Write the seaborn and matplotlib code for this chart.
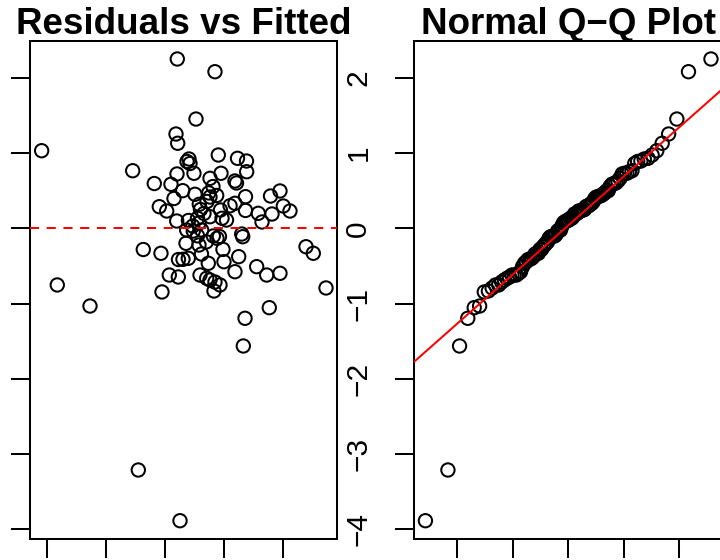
import numpy as np
import pandas as pd
import seaborn as sns
import matplotlib
matplotlib.use("Agg")
import matplotlib.pyplot as plt
from statistics import NormalDist

# ---- data ----
fitted = [0.915, 3.208, 3.845, 3.524, 3.186, 3.215, 2.454, 3.372, 3.423, 3.406,
          3.901, 4.226, 4.378, 4.381, 3.947, 3.490, 3.203, 2.819, 3.101, 3.761,
          3.811, 4.183, 4.209, 3.152, 3.507, 3.874, 3.761, 3.710, 4.361, 4.944,
          4.784, 2.904, 3.029, 3.580, 3.600, 3.938, 4.183, 4.361, 4.577, 4.809,
          5.000, 5.113, 3.198, 3.397, 3.549, 3.575, 3.659, 3.964, 4.040, 4.640,
          3.761, 3.367, 3.478, 3.620, 3.817, 3.879, 3.921, 4.297, 4.314, 3.355,
          3.575, 2.633, 2.932, 3.228, 3.304, 3.394, 3.617, 3.732, 3.997, 4.246,
          5.384, 5.507, 4.550, 4.719, 4.944, 4.183, 3.073, 3.225, 3.592, 3.705,
          3.761, 3.845, 3.930, 3.828, 2.949, 1.179, 1.732, 5.722, 4.763, 4.353,
          4.324, 2.549, 3.254, 3.470, 3.700, 3.550, 3.740, 4.100, 3.300, 3.980]
residuals = [1.031, 2.250, 2.081, 1.452, 1.253, 1.130, 0.765, 0.888, 0.861, 0.921,
             0.974, 0.930, 0.894, 0.752, 0.731, 0.731, 0.722, 0.595, 0.585, 0.664,
             0.555, 0.629, 0.602, 0.396, 0.452, 0.436, 0.416, 0.356, 0.420, 0.496,
             0.429, 0.287, 0.230, 0.319, 0.250, 0.243, 0.332, 0.237, 0.199, 0.190,
             0.296, 0.230, 0.097, 0.104, 0.133, 0.070, 0.197, 0.133, 0.110, 0.084,
             0.154, -0.023, -0.036, -0.023, -0.102, -0.133, -0.109, -0.076, -0.112, -0.199,
             -0.222, -0.282, -0.332, -0.415, -0.412, -0.399, -0.342, -0.465, -0.444, -0.377,
             -0.245, -0.332, -0.510, -0.621, -0.598, -0.577, -0.621, -0.647, -0.621, -0.664,
             -0.687, -0.714, -0.753, -0.833, -0.846, -0.753, -1.033, -0.793, -1.055, -1.196,
             -1.564, -3.212, -3.886, 0.030, -0.180, -0.100, 0.470, 0.300, 0.500, -0.280]

titles = ["Residuals vs Fitted", "Normal Q\u2212Q Plot"]
y_ticks = [-4, -3, -2, -1, 0, 1, 2]
fit_ticks = [1, 2, 3, 4, 5]
qq_ticks = [-2, -1, 0, 1, 2]

# ---- derived (Q-Q) ----
n = len(residuals)
res_sorted = np.sort(np.array(residuals))
nd = NormalDist()
theo = np.array([nd.inv_cdf((i + 1 - 0.5) / n) for i in range(n)])
q1, q3 = np.percentile(res_sorted, [25, 75])
z1, z3 = nd.inv_cdf(0.25), nd.inv_cdf(0.75)
slope = (q3 - q1) / (z3 - z1)
intercept = q1 - slope * z1

df_fit = pd.DataFrame({"fitted": fitted, "residual": residuals})
df_qq = pd.DataFrame({"theoretical": theo, "sample": res_sorted})

sns.set_style("white")
plt.rcParams["font.family"] = ["Liberation Sans", "DejaVu Sans"]

W, H = 720, 560
fig = plt.figure(figsize=(7.2, 5.6), dpi=100)

def frac(x0, x1, ytop, ybot):
    return [x0 / W, (H - ybot) / H, (x1 - x0) / W, (ybot - ytop) / H]

ax1 = fig.add_axes(frac(30.3, 337.3, 40.7, 538.7))
ax2 = fig.add_axes(frac(414.0, 722.4, 40.7, 538.7))

mk = dict(s=92, facecolor="none", edgecolor="black", linewidth=1.45, marker="o")

sns.scatterplot(data=df_fit, x="fitted", y="residual", ax=ax1, legend=False, **mk)
ax1.axhline(0, color="red", linewidth=1.45, linestyle=(0, (4.5, 3.8)), zorder=3)
ax1.set_xticks(fit_ticks)
ax1.set_xlim(0.723, 5.913)

sns.scatterplot(data=df_qq, x="theoretical", y="sample", ax=ax2, legend=False, **mk)
ax2.axline((0, intercept), slope=slope, color="red", linewidth=1.45, zorder=3)
ax2.set_xticks(qq_ticks)
ax2.set_xlim(-2.782, 2.782)

for ax, t in zip([ax1, ax2], titles):
    ax.set_yticks(y_ticks)
    ax.set_ylim(-4.125, 2.493)
    ax.set_xlabel("")
    ax.set_ylabel("")
    for sp in ax.spines.values():
        sp.set_visible(True)
        sp.set_color("black")
        sp.set_linewidth(1.45)
    ax.tick_params(axis="both", which="major", direction="out", length=14,
                   width=1.45, color="black", labelsize=21.5, labelcolor="black",
                   left=True, bottom=True, pad=16)
    ax.tick_params(axis="y", labelrotation=90)
    for lab in ax.get_yticklabels():
        lab.set_verticalalignment("center")
    ax.set_title(t, fontsize=26.5, fontweight="bold", color="black", pad=5)

fig.savefig("out.png", dpi=100)
